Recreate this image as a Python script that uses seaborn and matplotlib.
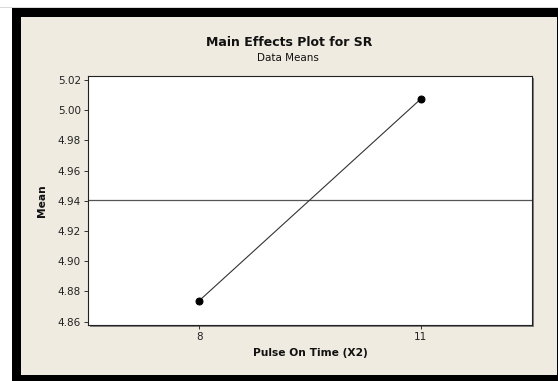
import matplotlib
matplotlib.use("Agg")
import matplotlib.pyplot as plt
from matplotlib.patches import Rectangle
import seaborn as sns
import pandas as pd

levels = [8, 11]
means = [4.874, 5.0074]
grand_mean = 4.9407
yticks = [4.86, 4.88, 4.90, 4.92, 4.94, 4.96, 4.98, 5.00, 5.02]
title = "Main Effects Plot for SR"
subtitle = "Data Means"
xlabel = "Pulse On Time (X2)"
ylabel = "Mean"

sns.set_theme(style="white")
plt.rcParams['font.family'] = ['DejaVu Sans']

W, H = 558, 381
fig = plt.figure(figsize=(W / 100, H / 100), dpi=100)
fig.patch.set_facecolor("white")

def px_rect(x0, y0, x1, y1, color, z=0):
    fig.patches.append(Rectangle((x0 / W, 1 - y1 / H), (x1 - x0) / W, (y1 - y0) / H,
                                 transform=fig.transFigure, facecolor=color,
                                 edgecolor="none", zorder=z))

# outer frame
px_rect(12, 8, 558, 381, "black", z=-3)
px_rect(21, 17, 556.5, 375, "#efebe1", z=-2)
# light line at top
px_rect(0, 7, 558, 8, "#d9d9d9", z=-3)

ax_l, ax_r, ax_t, ax_b = 88, 532, 76, 325
# shadow
px_rect(ax_l + 2, ax_t + 2, ax_r + 2, ax_b + 2, "#808080", z=-1)

ax = fig.add_axes([ax_l / W, 1 - ax_b / H, (ax_r - ax_l) / W, (ax_b - ax_t) / H])
ax.set_facecolor("white")

df = pd.DataFrame({"level": levels, "mean": means})
sns.lineplot(data=df, x="level", y="mean", ax=ax, color="#333333", linewidth=0.8,
             marker="o", markersize=5, markerfacecolor="black", markeredgecolor="black")
ax.axhline(grand_mean, color="#555555", linewidth=0.9, zorder=1)

ax.set_xlim(6.49, 12.51)
ax.set_ylim(4.8578, 5.0227)
ax.set_xticks(levels)
ax.set_xticklabels([str(v) for v in levels])
ax.set_yticks(yticks)
ax.set_yticklabels([f"{v:.2f}" for v in yticks])
ax.tick_params(axis="both", which="both", direction="out", length=3, width=0.7,
               color="#333333", labelsize=7.5, pad=2, left=True, bottom=True)
for lbl in ax.get_xticklabels() + ax.get_yticklabels():
    lbl.set_color("#222222")
for s in ax.spines.values():
    s.set_visible(True)
    s.set_color("#222222")
    s.set_linewidth(0.8)

ax.set_xlabel(xlabel, fontsize=7.7, fontweight="bold", labelpad=4, color="#111111")
ax.set_ylabel(ylabel, fontsize=7.7, fontweight="bold", labelpad=8, color="#111111")

fig.text(289 / W, 1 - 42 / H, title, ha="center", va="center", fontsize=9,
         fontweight="bold", color="#111111")
fig.text(288 / W, 1 - 58 / H, subtitle, ha="center", va="center", fontsize=7.5,
         color="#111111")

fig.savefig("out.png", dpi=100, facecolor=fig.get_facecolor())
